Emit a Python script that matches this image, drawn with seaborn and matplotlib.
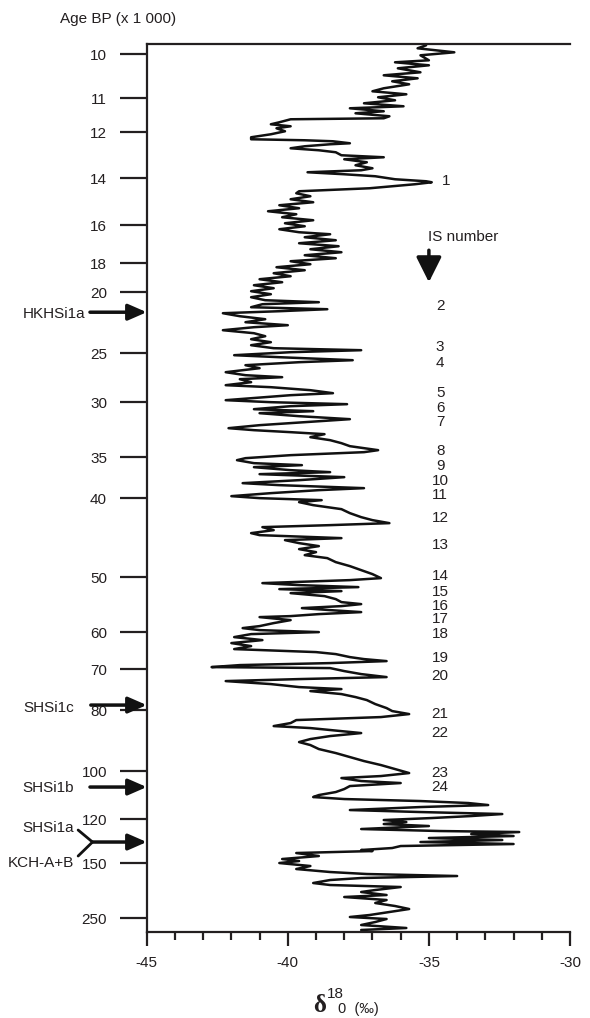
import numpy as np
import pandas as pd
import matplotlib
matplotlib.use("Agg")
import matplotlib.pyplot as plt
import matplotlib.transforms as mtrans
import seaborn as sns

# ---------------- data ----------------
# age-depth model: tick ages (kyr BP) and their depth along the core axis
tick_ages = ["10", "11", "12", "14", "16", "18", "20", "25", "30", "35", "40",
             "50", "60", "70", "80", "100", "120", "150", "250"]
tick_depths = [10, 54, 88, 134, 181, 219, 248, 309, 358, 413, 454,
               533, 588, 625, 666, 727, 775, 819, 874]

# delta 18 O record (per mil) along depth
depth = [1, 4, 8, 11, 16, 18, 21, 24, 28, 31, 34, 37, 40, 44, 47, 50, 53, 56, 59, 62,
         64, 67, 69, 72, 74, 75, 78, 80, 82, 84, 87, 90, 93, 95, 96, 97, 99, 100, 102, 104,
         106, 108, 111, 113, 115, 118, 121, 124, 126, 128, 130, 132, 135, 137, 138, 140, 144, 147, 149, 152,
         155, 158, 161, 164, 167, 170, 173, 176, 179, 182, 185, 188, 190, 193, 196, 199, 202, 205, 208, 211,
         214, 217, 220, 223, 226, 229, 232, 235, 238, 241, 244, 247, 250, 253, 256, 258, 260, 263, 265, 267,
         269, 272, 275, 278, 281, 283, 286, 289, 292, 295, 298, 301, 304, 306, 308, 311, 313, 316, 318, 321,
         324, 328, 331, 333, 335, 338, 341, 343, 346, 349, 351, 354, 356, 358, 360, 362, 365, 367, 369, 372,
         375, 378, 381, 384, 386, 388, 390, 393, 396, 399, 402, 404, 406, 408, 411, 414, 416, 419, 421, 423,
         426, 428, 430, 433, 436, 439, 441, 444, 446, 449, 452, 454, 456, 458, 461, 465, 469, 473, 476, 479,
         481, 483, 486, 489, 491, 494, 496, 499, 502, 505, 508, 511, 514, 518, 522, 526, 530, 534, 536, 539,
         541, 543, 545, 547, 549, 552, 555, 558, 560, 562, 564, 566, 568, 570, 572, 573, 576, 579, 582, 584,
         586, 588, 590, 593, 596, 599, 602, 605, 608, 610, 613, 615, 617, 619, 621, 623, 624, 627, 630, 633,
         635, 637, 640, 643, 645, 647, 650, 653, 656, 660, 664, 667, 670, 673, 676, 679, 682, 684, 687, 689,
         692, 695, 698, 701, 705, 709, 713, 717, 721, 725, 729, 732, 734, 737, 739, 742, 745, 748, 751, 753,
         755, 757, 759, 761, 763, 766, 768, 770, 772, 774, 776, 778, 780, 782, 785, 787, 788, 790, 792, 794,
         796, 798, 800, 802, 804, 806, 807, 809, 812, 815, 817, 819, 822, 825, 828, 830, 832, 834, 836, 839,
         841, 843, 846, 848, 851, 853, 856, 859, 862, 865, 868, 871, 873, 875, 878, 881, 884, 886]
d18o = [-35.1, -35.4, -34.1, -35.3, -35.0, -36.2, -35.0, -36.1, -35.3, -36.6, -35.4, -36.3, -35.7, -36.6, -37.0, -35.8, -36.8, -36.2, -37.3, -35.9,
        -37.8, -36.6, -37.6, -36.4, -36.6, -39.9, -40.3, -40.6, -39.9, -40.4, -40.1, -40.6, -41.3, -41.3, -39.4, -38.4, -37.8, -38.5, -39.4, -39.9,
        -38.9, -38.3, -38.1, -36.6, -38.0, -37.2, -37.6, -37.0, -37.4, -39.3, -38.0, -36.9, -36.2, -35.1, -34.9, -35.5, -37.1, -39.6, -39.7, -39.2,
        -39.9, -39.1, -40.3, -39.6, -40.7, -39.7, -40.2, -39.1, -40.1, -39.4, -40.3, -39.6, -38.5, -39.4, -38.3, -39.6, -38.2, -39.2, -38.1, -39.4,
        -38.3, -39.9, -39.2, -40.4, -39.4, -40.5, -39.9, -41.0, -40.2, -41.2, -40.5, -41.3, -40.6, -41.3, -40.8, -38.9, -40.9, -41.3, -38.6, -40.3,
        -42.3, -41.7, -40.8, -41.5, -40.0, -41.2, -42.3, -41.2, -40.8, -41.3, -40.6, -41.3, -40.5, -37.4, -39.9, -41.9, -40.3, -37.7, -39.6, -41.5,
        -41.0, -42.2, -41.5, -40.2, -41.7, -41.3, -42.2, -40.6, -39.2, -38.4, -39.9, -41.3, -42.2, -40.6, -37.9, -39.9, -41.2, -39.1, -41.0, -39.6,
        -37.8, -39.4, -41.0, -42.1, -41.2, -39.9, -38.7, -39.2, -38.5, -38.1, -37.8, -37.3, -36.8, -37.3, -39.9, -41.5, -41.8, -41.2, -39.5, -41.2,
        -39.9, -38.5, -41.0, -38.0, -39.6, -41.6, -40.3, -37.3, -38.9, -40.6, -42.0, -41.0, -38.8, -39.6, -39.1, -38.1, -37.8, -37.4, -37.0, -36.4,
        -38.5, -40.9, -40.5, -41.3, -41.0, -38.1, -40.1, -39.6, -38.9, -39.6, -39.0, -39.4, -38.6, -38.3, -37.8, -37.4, -37.0, -36.7, -37.8, -40.9,
        -39.6, -37.5, -40.3, -38.1, -39.9, -38.7, -38.3, -38.1, -37.4, -38.1, -39.5, -38.5, -37.4, -38.9, -39.9, -41.0, -39.9, -40.5, -41.0, -41.6,
        -41.0, -38.9, -41.3, -41.9, -40.9, -42.0, -41.3, -41.9, -39.0, -38.3, -37.8, -37.3, -36.5, -38.5, -41.7, -42.7, -38.5, -38.0, -37.4, -36.5,
        -39.6, -42.2, -40.6, -39.6, -38.1, -39.2, -38.1, -37.6, -37.2, -36.9, -36.5, -36.3, -35.7, -36.7, -39.7, -39.9, -40.5, -39.2, -38.1, -37.4,
        -38.5, -39.2, -39.6, -39.2, -38.9, -38.3, -37.8, -37.3, -36.7, -36.2, -35.7, -36.7, -38.1, -37.4, -36.0, -37.8, -38.0, -38.3, -38.9, -39.1,
        -38.0, -35.3, -33.6, -32.9, -35.3, -37.8, -35.3, -32.4, -33.5, -34.9, -36.6, -35.8, -36.6, -35.0, -37.4, -34.6, -31.8, -33.5, -32.0, -35.0,
        -32.4, -35.3, -32.0, -36.0, -36.3, -37.4, -37.0, -39.7, -38.9, -40.2, -39.6, -40.3, -39.2, -39.7, -38.5, -37.2, -34.0, -37.4, -38.5, -39.1,
        -38.5, -36.0, -36.9, -37.4, -36.5, -38.0, -36.5, -36.9, -36.2, -35.7, -36.4, -37.1, -37.8, -36.5, -36.9, -37.4, -35.8, -37.4]

# interstadial numbers
is_labels = [str(i) for i in range(1, 25)]
is_depths = [137, 262, 303, 319, 349, 364, 378, 407, 422, 437, 451, 474,
             501, 532, 548, 562, 575, 590, 614, 632, 670, 689, 729, 743]

# tephra markers
tephra_labels = ["HKHSi1a", "SHSi1c", "SHSi1b"]
tephra_depths = [268, 661, 743]
pair_labels = ["SHSi1a", "KCH-A+B"]
pair_depth = 798

# ---------------- plot ----------------
sns.set_theme(style="ticks")
plt.rcParams["font.family"] = ["Liberation Sans", "DejaVu Sans"]

INK = "#231f20"
W, H = 590, 1018
fig = plt.figure(figsize=(W / 100, H / 100), dpi=100)
ax = fig.add_axes([146.7 / W, 1 - 932 / H, (570 - 146.7) / W, (932 - 44.3) / H])

df = pd.DataFrame({"depth": depth, "d18o": d18o})
sns.lineplot(data=df, x="d18o", y="depth", orient="y", sort=False, estimator=None,
             color="#111111", lw=1.8, ax=ax)

ax.set_xlim(-45, -30)
ax.set_ylim(888, 0)
ax.set_xlabel("")
ax.set_ylabel("")

ax.set_xticks([-45, -40, -35, -30])
ax.set_xticklabels(["-45", "-40", "-35", "-30"])
ax.set_xticks(np.arange(-45, -29, 1), minor=True)
ax.set_yticks(tick_depths)
ax.set_yticklabels(tick_ages)
ax.tick_params(axis="x", which="major", direction="out", length=10, width=1.6,
               labelsize=11, pad=7, color=INK, labelcolor=INK)
ax.tick_params(axis="x", which="minor", direction="out", length=6, width=1.6, color=INK)
ax.tick_params(axis="y", which="major", direction="out", length=19.5, width=1.6,
               labelsize=11, pad=9, color=INK, labelcolor=INK)

for s in ["left", "bottom", "top"]:
    ax.spines[s].set_linewidth(1.6)
    ax.spines[s].set_color(INK)
ax.spines["right"].set_visible(False)

# Age axis title
fig.text(60 / W, 1 - 19 / H, "Age BP (x 1 000)", fontsize=11, ha="left", va="center", color=INK)

# IS numbers
for lab, d in zip(is_labels, is_depths):
    xpos = -34.4 if lab == "1" else -34.6
    ax.text(xpos, d, lab, fontsize=11, ha="center", va="center", color=INK)
ax.text(-33.8, 193, "IS number", fontsize=11, ha="center", va="center", color=INK)
ax.annotate("", xy=(-35.0, 238), xytext=(-35.0, 206),
            arrowprops=dict(arrowstyle="-|>,head_length=1.1,head_width=0.55",
                            mutation_scale=14, lw=2.5, color="#111111",
                            shrinkA=0, shrinkB=0))

# tephra markers on the left
bt = mtrans.blended_transform_factory(ax.transAxes, ax.transData)
arrow_kw = dict(arrowstyle="-|>,head_length=0.8,head_width=0.35", mutation_scale=14,
                lw=2.5, color="#111111", shrinkA=0, shrinkB=0)
text_x = [-0.146, -0.171, -0.171]
arrow_x0 = [-0.134, -0.132, -0.134]
label_depth = [270, 664, 744]
for lab, d, tx, ax0, ld in zip(tephra_labels, tephra_depths, text_x, arrow_x0, label_depth):
    ax.annotate("", xy=(0, d), xycoords=bt, xytext=(ax0, d), textcoords=bt,
                arrowprops=arrow_kw, annotation_clip=False)
    ax.text(tx, ld, lab, transform=bt, fontsize=11, ha="right", va="center",
            color=INK, clip_on=False)

ax.annotate("", xy=(0, pair_depth), xycoords=bt, xytext=(-0.128, pair_depth), textcoords=bt,
            arrowprops=arrow_kw, annotation_clip=False)
ax.plot([-0.162, -0.128, -0.162], [pair_depth - 12, pair_depth, pair_depth + 14],
        transform=bt, color="#111111", lw=2.0, clip_on=False)
ax.text(-0.171, pair_depth - 14, pair_labels[0], transform=bt, fontsize=11, ha="right",
        va="center", color=INK, clip_on=False)
ax.text(-0.171, pair_depth + 21, pair_labels[1], transform=bt, fontsize=11, ha="right",
        va="center", color=INK, clip_on=False)

# x axis title: delta 18 O (per mil)
fig.text(320 / W, 1 - 1006 / H, "δ", fontsize=18, fontweight="bold",
         family=["Liberation Serif", "DejaVu Serif"], ha="center", va="center", color=INK)
fig.text(335 / W, 1 - 994 / H, "18", fontsize=11, ha="center", va="center", color=INK)
fig.text(338 / W, 1 - 1009 / H, "0  (‰)", fontsize=10.5, ha="left", va="center",
         family=["Liberation Sans", "DejaVu Sans"], color=INK)

fig.savefig("out.png", dpi=100)
